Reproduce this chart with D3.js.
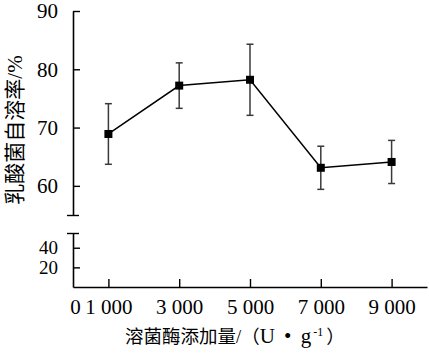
<!DOCTYPE html>
<html>
<head>
<meta charset="utf-8">
<script src="https://cdn.jsdelivr.net/npm/d3@7"></script>
<style>
  body { margin: 0; background: #fff; }
  svg { display: block; }
  text { font-family: "Liberation Serif", "Noto Sans CJK SC", serif; fill: #000; }
</style>
</head>
<body>
<svg id="chart" width="429" height="354"></svg>
<script>
// lysozyme dose (U/g) vs autolysis rate (%)
var doses = [1000, 3000, 5000, 7000, 9000]
var means = [68.9, 77.2, 78.2, 63.1, 64.1]
var errs = [5.2, 3.9, 6.1, 3.7, 3.7]
var xTicks = [0, 1000, 3000, 5000, 7000, 9000]
var yTicksTop = [55, 60, 70, 80, 90]
var yTicksBottom = [20, 40, 55]

var data = doses.map(function (d, i) { return { dose: d, mean: means[i], err: errs[i] } })

var svg = d3.select("#chart")

var xScale = d3.scaleLinear().domain([0, 10000]).range([73, 427])
// broken y axis: upper part 55-90, lower part 0-55
var yTop = d3.scaleLinear().domain([55, 90]).range([215, 11])
var yBottom = d3.scaleLinear().domain([0, 55]).range([287, 233])

var fmtX = function (d) { return d === 0 ? "0" : d3.format(",")(d).replace(",", " ") }

var xAxis = svg.append("g")
    .attr("transform", "translate(0," + 287 + ")")
    .call(d3.axisBottom(xScale).tickValues(xTicks).tickFormat(fmtX)
        .tickSizeInner(-8).tickSizeOuter(0).tickPadding(12))
xAxis.selectAll(".tick").filter(function (d) { return d === 0 }).select("line").remove()
xAxis.selectAll(".tick").filter(function (d) { return d === 0 }).select("text").attr("x", 2)

var yAxisTop = svg.append("g")
    .attr("transform", "translate(73,0)")
    .call(d3.axisLeft(yTop).tickValues(yTicksTop)
        .tickFormat(function (d) { return d === 55 ? "" : d })
        .tickSizeInner(-7).tickSizeOuter(0).tickPadding(15))

var yAxisBottom = svg.append("g")
    .attr("transform", "translate(73,0)")
    .call(d3.axisLeft(yBottom).tickValues(yTicksBottom)
        .tickFormat(function (d) { return d === 55 ? "" : d })
        .tickSizeInner(-7).tickSizeOuter(0).tickPadding(15))

// break end ticks stick out both ways
svg.selectAll(".tick").filter(function (d) { return d === 55 }).select("line")
    .attr("x1", -6).attr("x2", 6)

svg.selectAll(".domain").attr("stroke-width", 1.6)
svg.selectAll(".tick line").attr("stroke-width", 1.4)
svg.selectAll(".tick text").style("font-size", "21px").attr("font-family", null)
// lower labels sit tight, keep them a touch smaller so they don't collide
yAxisBottom.selectAll(".tick text").style("font-size", "19px")

// error bars
var eb = svg.append("g").attr("stroke", "#3a3a3a").attr("stroke-width", 1.5)
data.forEach(function (d) {
    var cx = xScale(d.dose)
    eb.append("line")
        .attr("x1", cx).attr("x2", cx)
        .attr("y1", yTop(d.mean + d.err)).attr("y2", yTop(d.mean - d.err))
    eb.append("line")
        .attr("x1", cx - 3.5).attr("x2", cx + 3.5)
        .attr("y1", yTop(d.mean + d.err)).attr("y2", yTop(d.mean + d.err))
    eb.append("line")
        .attr("x1", cx - 3.5).attr("x2", cx + 3.5)
        .attr("y1", yTop(d.mean - d.err)).attr("y2", yTop(d.mean - d.err))
})

var line = d3.line()
    .x(function (d) { return xScale(d.dose) })
    .y(function (d) { return yTop(d.mean) })

svg.append("path")
    .datum(data)
    .attr("d", line)
    .attr("fill", "none")
    .attr("stroke", "#000")
    .attr("stroke-width", 1.5)

svg.append("g")
    .selectAll(".dot")
    .data(data)
    .enter()
    .append("rect")
    .attr("class", "dot")
    .attr("x", function (d) { return xScale(d.dose) - 4 })
    .attr("y", function (d) { return yTop(d.mean) - 4 })
    .attr("width", 8)
    .attr("height", 8)
    .attr("fill", "#000")

// axis titles
var xt = svg.append("text")
    .attr("x", 125)
    .attr("y", 343)
    .attr("text-anchor", "start")
    .style("font-size", "18.5px")
xt.append("tspan").text("溶菌酶添加量/（")
xt.append("tspan").style("font-size", "21px").style("letter-spacing", "2px").text("U • g")
xt.append("tspan").attr("dy", -7).style("font-size", "12px").text("-1")
xt.append("tspan").attr("dy", 7).attr("dx", 3).text("）")

svg.append("text")
    .attr("transform", "translate(22,130) rotate(-90)")
    .attr("text-anchor", "middle")
    .style("font-size", "21px")
    .text("乳酸菌自溶率/%")
</script>
</body>
</html>
